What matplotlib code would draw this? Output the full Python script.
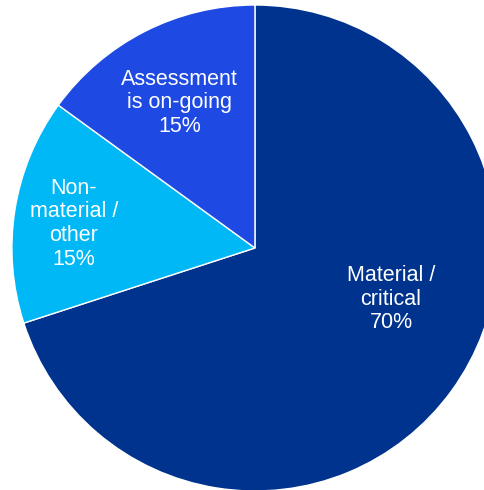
import matplotlib
matplotlib.use("Agg")
import matplotlib.pyplot as plt

categories = ["Material /\ncritical", "Non-\nmaterial /\nother", "Assessment\nis on-going"]
values = [70, 15, 15]
colors = ["#00338D", "#00B8F5", "#1E49E2"]
label_pos = [(0.56, -0.21), (-0.745, 0.10), (-0.31, 0.597)]

plt.rcParams['font.family'] = ['Liberation Sans', 'DejaVu Sans']

fig = plt.figure(figsize=(4.85, 4.90), dpi=100)
ax = fig.add_axes([0, 0, 1, 1])
wedges, _ = ax.pie(values, colors=colors, startangle=90, counterclock=False,
                   radius=1.0, center=(0, 0),
                   wedgeprops=dict(edgecolor="white", linewidth=1.0))
for cat, v, (x, y) in zip(categories, values, label_pos):
    ax.text(x, y, f"{cat}\n{v}%", ha="center", va="center", color="white",
            fontsize=15.5, linespacing=1.16)

ax.set_xlim(-1.049, 0.9465)
ax.set_ylim(-0.9959, 1.0206)
ax.set_aspect("auto")
ax.axis("off")
fig.savefig("out.png", dpi=100, facecolor="white")
